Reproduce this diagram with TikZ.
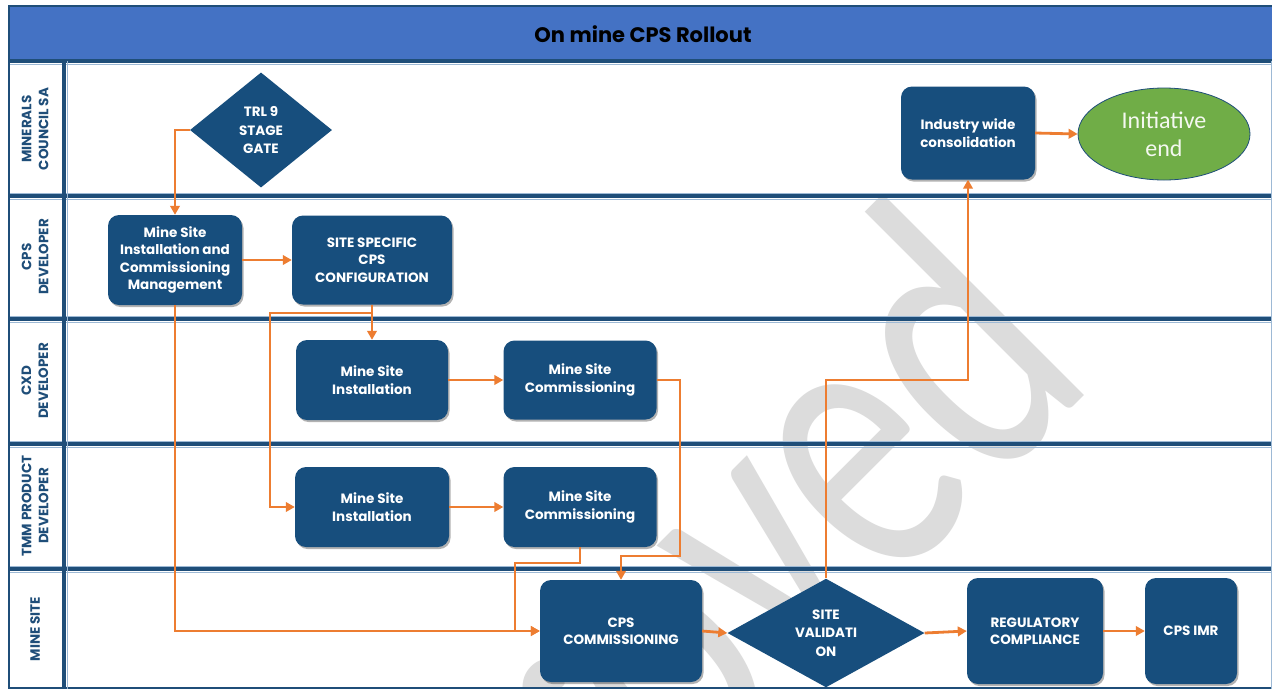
\documentclass[tikz,border=0pt]{standalone}
\usepackage{fontspec}
\setmainfont{Poppins}
\newfontfamily\calibrifont{Carlito}
\usetikzlibrary{arrows.meta,shapes.geometric,shadows}
\definecolor{navy}{HTML}{1F4E79}
\definecolor{boxblue}{HTML}{174E7D}
\definecolor{titleblue}{HTML}{4472C4}
\definecolor{flow}{HTML}{ED7D31}
\definecolor{endgreen}{HTML}{70AD47}
\definecolor{markgray}{HTML}{DCDCDC}
\definecolor{paleline}{HTML}{9DB9D5}
\tikzset{
  boxshadow/.style={drop shadow={shadow xshift=1.5pt,shadow yshift=-2pt,opacity=0.3,fill=black}},
  proc/.style={fill=boxblue, draw=none, rounded corners=11pt, text=white,
    font=\bfseries\fontsize{13.5}{17.5}\selectfont, align=center, inner sep=0pt, boxshadow},
  gate/.style={diamond, fill=boxblue, draw=none, text=white,
    font=\bfseries\fontsize{13.5}{18.5}\selectfont, align=center, inner sep=0pt},
  terminal/.style={ellipse, fill=endgreen, draw=navy, line width=0.8pt, text=white!92!endgreen,
    font=\calibrifont\fontsize{24}{28}\selectfont, align=center, inner sep=0pt},
  flowline/.style={draw=flow, line width=2.8pt, -{Triangle[length=9pt,width=9.5pt]}},
  lanelabel/.style={rotate=90, text=navy, font=\bfseries\fontsize{13.5}{17}\selectfont, align=center, inner sep=0pt},
  divider/.style={draw=navy, line width=3.5pt},
  pale/.style={draw=paleline, line width=0.8pt},
}
\begin{document}
\begin{tikzpicture}[x=1pt,y=-1pt]
\useasboundingbox (0,0) rectangle (1274,689);
\fill[white] (0,0) rectangle (1274,689);

% watermark lettering behind the lanes (narrowed, tilted)
\begin{scope}
  \clip (66,197) rectangle (1270,687);
  \node[rotate=45, xscale=0.72, anchor=base east, text=markgray, inner sep=0pt,
        font=\calibrifont\fontsize{410}{410}\selectfont] (wmark) at (1099,381) {Approved};
\end{scope}

% title bar
\fill[titleblue] (8,5) rectangle (1272,60);
\draw[navy, line width=2.5pt] (8,6) -- (1272,6);
\node[font=\bfseries\fontsize{21}{24}\selectfont, text=black] (title) at (643,34) {On mine CPS Rollout};

% lane grid
\draw[pale] (8,64.5) -- (1272,64.5);
\foreach \yy in {196,319,444,569}{
  \draw[pale] (8,\yy-3) -- (1272,\yy-3);
  \draw[pale] (8,\yy+3) -- (1272,\yy+3);
  \draw[divider] (8,\yy) -- (1272,\yy);
}
\draw[divider] (8,61) -- (1272,61);
\draw[navy, line width=1.5pt] (8,688) -- (1272,688);
\draw[navy, line width=2.5pt] (9,5) -- (9,689);
\draw[divider] (64,61) -- (64,689);
\draw[pale] (67,61) -- (67,689);
\draw[pale] (1271,61) -- (1271,689);

% lane titles
\node[lanelabel] (lane1) at (35,129) {MINERALS\\COUNCIL SA};
\node[lanelabel] (lane2) at (35,257) {CPS\\DEVELOPER};
\node[lanelabel] (lane3) at (35,381) {CXD\\DEVELOPER};
\node[lanelabel] (lane4) at (35,506) {TMM PRODUCT\\DEVELOPER};
\node[lanelabel] (lane5) at (35,629) {MINE SITE};

% process steps
\node[gate, minimum width=142pt, minimum height=115pt] (trl) at (261,130) {TRL 9\\STAGE\\GATE};
\node[proc, minimum width=134pt, minimum height=90pt] (mgmt) at (175,260) {Mine Site\\Installation and\\Commissioning\\Management};
\node[proc, minimum width=160pt, minimum height=89pt] (config) at (372,260) {SITE SPECIFIC\\CPS\\CONFIGURATION};
\node[proc, minimum width=152pt, minimum height=80pt] (cxdinst) at (372,380) {Mine Site\\Installation};
\node[proc, minimum width=153pt, minimum height=79pt] (cxdcomm) at (580,380) {Mine Site\\Commissioning};
\node[proc, minimum width=154pt, minimum height=80pt] (tmminst) at (372,507) {Mine Site\\Installation};
\node[proc, minimum width=153pt, minimum height=80pt] (tmmcomm) at (580,507) {Mine Site\\Commissioning};
\node[proc, minimum width=162pt, minimum height=102pt] (cpscomm) at (621,631) {CPS\\COMMISSIONING};
\node[gate, minimum width=197pt, minimum height=100pt] (valid) at (826,633) {SITE\\VALIDATI\\ON};
\node[proc, minimum width=136pt, minimum height=106pt] (reg) at (1035,631) {REGULATORY\\COMPLIANCE};
\node[proc, minimum width=92pt, minimum height=106pt] (imr) at (1191,631) {CPS IMR};
\node[proc, minimum width=134pt, minimum height=93pt] (ind) at (968,133) {Industry wide\\consolidation};
\node[terminal, minimum width=172pt, minimum height=92pt] (finish) at (1164,134) {Initiative\\end};

% bend points
\coordinate (split) at (372,313);

% connectors
\draw[flowline] (trl.west) -| (mgmt.north);
\draw[flowline] (mgmt.east) -- (config.west);
\draw[flowline] (config.south) -- (split) -- (cxdinst.north);
\draw[flowline] (split) -- (270,313) |- (tmminst.west);
\draw[flowline] (cxdinst.east) -- (cxdcomm.west);
\draw[flowline] (tmminst.east) -- (tmmcomm.west);
\draw[flowline] (cxdcomm.east) -- (680,380) -- (680,556) -| (cpscomm.north);
\draw[flowline] (tmmcomm.south) -- (580,563) -- (515,563) |- (cpscomm.west);
\draw[flowline] (mgmt.south) |- (cpscomm.west);
\draw[flowline] (cpscomm.east) -- (valid.west);
\draw[flowline] (valid.north) -- (826,380) -| (ind.south);
\draw[flowline] (valid.east) -- (reg.west);
\draw[flowline] (reg.east) -- (imr.west);
\draw[flowline] (ind.east) -- (finish.west);
\end{tikzpicture}
\end{document}
